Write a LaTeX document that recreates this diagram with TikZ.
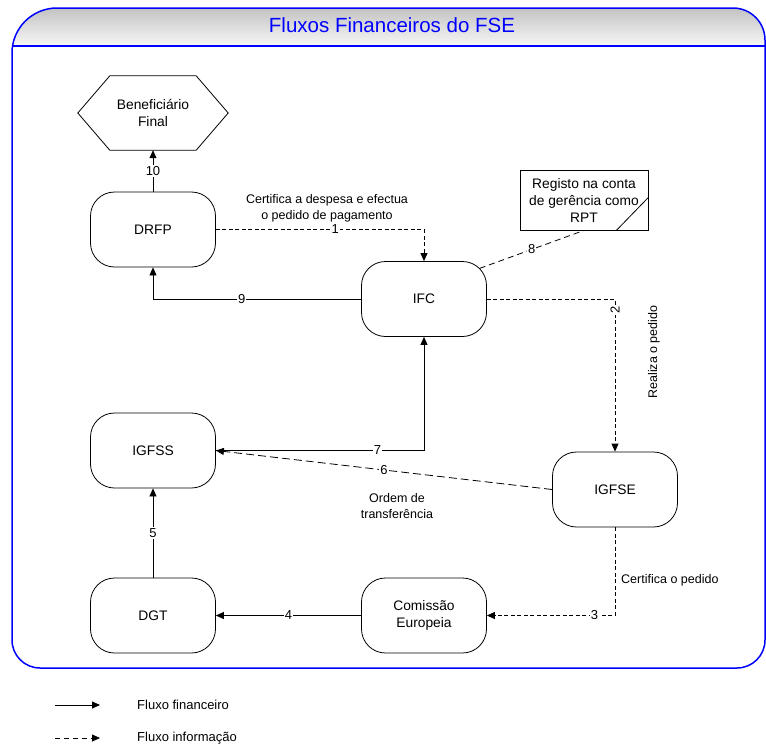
\documentclass[tikz,border=0pt]{standalone}
\usepackage{fontspec}
\setmainfont{Liberation Sans}
\usetikzlibrary{arrows.meta,calc}
\definecolor{titleblue}{RGB}{0,0,255}
\begin{document}
\begin{tikzpicture}[x=1pt,y=-1pt,
  box/.style={draw, line width=0.8pt, rounded corners=24pt, minimum width=125pt, minimum height=75pt, align=center, font=\fontsize{13.8}{16.5}\selectfont, inner sep=0pt},
  fin/.style={draw, line width=0.8pt, -{Triangle[length=8pt,width=7pt]}},
  info/.style={draw, line width=0.8pt, dash pattern=on 4pt off 2.5pt, -{Triangle[length=8pt,width=7pt]}},
  num/.style={fill=white, inner sep=1pt, font=\fontsize{13}{13}\selectfont},
  desc/.style={align=center, font=\fontsize{12.5}{16}\selectfont, inner sep=0pt},
  legtext/.style={anchor=west, font=\fontsize{13}{13}\selectfont, inner sep=0pt},
  frameline/.style={draw=titleblue, line width=1.5pt}
]
\useasboundingbox (0,0) rectangle (766,747);

% title band
\begin{scope}
\clip (12,640) -- (12,53) arc[start angle=180,end angle=270,radius=45] -- (733,8) arc[start angle=270,end angle=360,radius=32] -- (765,640) arc[start angle=0,end angle=90,radius=28] -- (40,668) arc[start angle=90,end angle=180,radius=28] -- cycle;
\shade[top color=black!28, bottom color=black!3] (0,0) rectangle (766,46);
\end{scope}
\draw[frameline] (12,640) -- (12,53) arc[start angle=180,end angle=270,radius=45] -- (733,8) arc[start angle=270,end angle=360,radius=32] -- (765,640) arc[start angle=0,end angle=90,radius=28] -- (40,668) arc[start angle=90,end angle=180,radius=28] -- cycle;
\draw[frameline] (12,46) -- (765,46);
\node[anchor=base, text=titleblue, font=\fontsize{20.5}{22}\selectfont] (title) at (392,32) {Fluxos Financeiros do FSE};

% nodes
\node[minimum width=150pt, minimum height=74pt, inner sep=0pt, align=center, font=\fontsize{13.8}{17}\selectfont] (ben) at (153,113) {Beneficiário\\Final};
\draw[line width=0.8pt] ($(ben.north west)+(32,0)$) -- ($(ben.north east)+(-32,0)$) -- (ben.east) -- ($(ben.south east)+(-32,0)$) -- ($(ben.south west)+(32,0)$) -- (ben.west) -- cycle;

\node[box] (drfp) at (153,229.5) {DRFP};
\node[box] (ifc) at (424,299) {IFC};
\node[draw, line width=0.8pt, minimum width=128pt, minimum height=60pt, inner sep=0pt, align=center, font=\fontsize{13.8}{17}\selectfont] (reg) at (584,200) {Registo na conta\\de gerência como\\RPT};
\draw[line width=0.8pt] ($(reg.south east)+(-32,0)$) -- ($(reg.south east)+(0,-33)$);
\node[box] (igfss) at (153,450.5) {IGFSS};
\node[box] (igfse) at (615,489.5) {IGFSE};
\node[box] (com) at (424,615.5) {Comissão\\Europeia};
\node[box] (dgt) at (153,615.5) {DGT};

% connectors
\draw[fin] (drfp.north) -- node[num]{10} (ben.south);
\draw[info] (drfp.east) -| node[num,pos=0.287]{1} (ifc.north);
\node[desc] (d1) at (327,208) {Certifica a despesa e efectua\\o pedido de pagamento};
\draw[line width=0.8pt, dash pattern=on 6pt off 4pt] ($(ifc.north east)+(-7.3,7.3)$) -- node[num]{8} (reg.south);
\draw[fin] (ifc.west) -| node[num,pos=0.287]{9} (drfp.south);
\draw[info] (ifc.east) -| node[num,pos=0.536,rotate=90]{2} (igfse.north);
\node[desc, rotate=90] (d2) at (654,352) {Realiza o pedido};
\draw[fin] (igfss.east) -| node[num,pos=0.388]{7} (ifc.south);
\draw[line width=0.8pt, dash pattern=on 8pt off 4pt, -{Triangle[length=8pt,width=7pt]}] (igfse.west) -- node[num]{6} (igfss.east);
\node[desc] (d6) at (397,506) {Ordem de\\transferência};
\draw[fin] (dgt.north) -- node[num]{5} (igfss.south);
\draw[fin] (com.west) -- node[num]{4} (dgt.east);
\draw[info] (igfse.south) |- node[num,pos=0.58]{3} (com.east);
\node[desc, anchor=west] (d3) at (621,580) {Certifica o pedido};

% legend
\coordinate (la1) at (55,705);
\coordinate (lb1) at (100,705);
\coordinate (la2) at (55,738);
\coordinate (lb2) at (100,738);
\draw[fin] (la1) -- (lb1);
\draw[line width=0.8pt, dash pattern=on 5pt off 4pt, -{Triangle[length=8pt,width=7pt]}] (la2) -- (lb2);
\node[legtext] (lt1) at (137,705) {Fluxo financeiro};
\node[legtext] (lt2) at (137,738) {Fluxo informação};
\end{tikzpicture}
\end{document}
